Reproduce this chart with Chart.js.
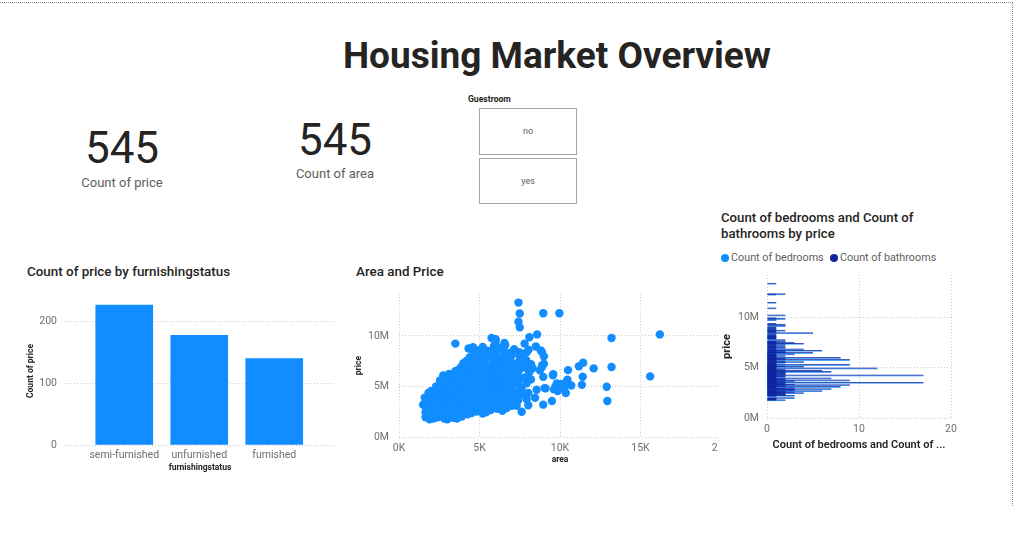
<!DOCTYPE html>
<html><head><meta charset="utf-8">
<script src="https://cdn.jsdelivr.net/npm/chart.js@4.4.1/dist/chart.umd.min.js"></script>
<style>
html,body{margin:0;padding:0;background:#fff;}
body{width:1024px;height:548px;position:relative;overflow:hidden;font-family:Roboto,'DejaVu Sans',sans-serif;color:#252423;}
.abs{position:absolute;}
#frame{left:0;top:2px;width:1012px;height:503px;border-top:1px dotted #8a8a8a;border-right:1px dotted #8a8a8a;}
#title{left:300px;width:514px;top:37px;text-align:center;font-size:37px;line-height:37px;font-weight:700;color:#252423;}
.kpi{width:200px;text-align:center;}
.kpiv{font-size:44px;line-height:44px;color:#252423;}
.kpil{font-size:13px;line-height:13px;color:#605E5C;}
.ctitle{font-size:13.4px;line-height:16px;font-weight:500;color:#252423;white-space:nowrap;}
.slbox{left:479px;width:96px;border:1px solid #a6a6a6;text-align:center;font-size:9px;color:#605E5C;}
.dot{width:8px;height:8px;border-radius:50%;}
.leg{font-size:10.8px;line-height:12px;color:#605E5C;white-space:nowrap;}
</style></head>
<body>
<div id="frame" class="abs"></div>
<div id="title" class="abs">Housing Market Overview</div>

<div class="abs kpi kpiv" id="kpi1" style="left:22px;top:126px;"></div>
<div class="abs kpi kpil" style="left:22px;top:176px;">Count of price</div>
<div class="abs kpi kpiv" id="kpi2" style="left:235px;top:118px;"></div>
<div class="abs kpi kpil" style="left:235px;top:167px;">Count of area</div>

<div class="abs" style="left:468px;top:94px;font-size:8.6px;line-height:10px;font-weight:700;color:#252423;">Guestroom</div>
<div class="abs slbox" style="top:108px;height:45px;line-height:45px;">no</div>
<div class="abs slbox" style="top:158px;height:44px;line-height:44px;">yes</div>

<div class="abs ctitle" style="left:27px;top:264px;">Count of price by furnishingstatus</div>
<div class="abs ctitle" style="left:356px;top:264px;">Area and Price</div>
<div class="abs ctitle" style="left:721px;top:210px;font-size:13.2px;">Count of bedrooms and Count of<br>bathrooms by price</div>

<div class="abs dot" style="left:721px;top:254px;background:#118DFF;"></div>
<div class="abs leg" style="left:731px;top:252px;">Count of bedrooms</div>
<div class="abs dot" style="left:830px;top:254px;background:#12239E;"></div>
<div class="abs leg" style="left:840px;top:252px;">Count of bathrooms</div>

<div class="abs" style="left:20px;top:297px;width:315px;height:180px;"><canvas id="barChart"></canvas></div>
<div class="abs" style="left:340px;top:290px;width:378px;height:178px;overflow:hidden;">
  <div style="position:relative;width:401px;height:178px;"><canvas id="scatterChart"></canvas></div>
</div>
<div class="abs" style="left:715px;top:275px;width:250px;height:180px;"><canvas id="hbarChart"></canvas></div>

<script>
// ---- Data ----
const furnishLabels = ['semi-furnished', 'unfurnished', 'furnished'];
const furnishCounts = [227, 178, 140];
const countTicks = [0, 100, 200];

const scatterArea = [
  7420,8960,9960,7500,7420,7500,8580,16200,8100,5750,
  13200,6000,6550,3500,7800,6000,6600,8500,4600,6420,
  4320,7155,8050,4560,8800,6540,6000,8875,7950,5500,
  7475,7000,4880,5960,6840,7000,7482,9000,6000,6000,
  6550,6360,6480,6000,6000,6000,6000,6600,4300,7440,
  7440,6325,6000,5150,6000,6000,11440,9000,7680,6000,
  6000,8880,6240,6360,11175,8880,13200,7700,6000,12090,
  4000,6000,5020,8000,6600,4180,6000,6600,10500,
  15600,12900,12940,11410,11360,10460,10700,10300,10240,10360,9800,9620,9860,9100,9560,9500,8960,8750,8960,9050,8450,8550,9580,10100,9720,
  4400,4700,5000,5200,5800,5900,6200,6700,6900,7650,7900,8200,8300,7850,4000,5250,6450,7100,
  1500,1650,1650,1700,1650,1836,1600,
  1905,2000,1950,1950,2000,2015,1950,2000,
  2145,2175,2280,2160,2275,2200,2325,2200,2300,
  2400,2430,2520,2500,2550,2610,2500,2550,2600,2550,
  2800,2700,2880,2747,2880,2800,2850,2700,2870,2800,2910,2747,
  3000,3180,3040,3150,3000,3180,3090,3150,3000,3120,3180,3100,
  3360,3450,3300,3480,3400,3350,3480,3420,3450,3360,3480,3500,3640,
  3600,3750,3640,3800,3630,3750,3640,3800,3700,3750,3640,3800,3850,
  3900,4000,3960,4050,3970,4100,4000,4040,4100,3990,4050,4000,
  4260,4350,4200,4360,4280,4400,4240,4350,4260,4400,4300,4350,4200,
  4500,4600,4520,4640,4500,4600,4560,4680,4500,4600,4540,4640,4600,
  4800,4900,4820,5000,4900,4800,5000,4840,4950,4800,4900,5000,4950,
  5200,5100,5300,5150,5250,5100,5300,5200,5300,5100,5250,5150,5300,5200,
  5400,5500,5450,5600,5400,5500,5600,5450,5500,5600,5400,5500,5450,5600,
  5700,5800,5750,5850,5700,5800,5880,5720,5800,5900,5760,5850,
  6000,6000,6000,6000,6000,6000,6000,6000,6000,6000,6000,6000,
  6100,6240,6150,6300,6200,6120,6300,6200,6250,6100,6300,
  6420,6500,6400,6600,6480,6550,6420,6600,6500,6400,6600,6500,
  6700,6800,6720,6900,6750,6840,6700,6900,6800,6720,
  7000,7100,7000,7200,7050,7150,7000,7200,7100,7000,
  7310,7400,7300,7500,7620,7400,7500,7350,7450,7620,
  7720,7930,7930,7800,8100,8200,8030,8030
];
const scatterPriceM = [
  13.3,12.25,12.25,12.215,11.41,10.85,10.15,10.15,9.87,9.8,
  9.8,9.681,9.31,9.24,9.24,9.1,9.1,8.96,8.89,8.855,
  8.75,8.68,8.645,8.645,8.575,8.54,8.463,8.4,8.4,8.4,
  8.4,8.4,8.295,8.19,8.12,8.081,8.043,7.98,7.963,7.91,
  7.875,7.84,7.7,7.7,7.56,7.56,7.525,7.49,7.455,7.42,
  7.42,7.42,7.35,7.35,7.35,7.35,7.343,7.245,7.21,7.21,
  7.14,7.07,7.07,7.035,7.0,6.93,6.93,6.895,6.86,6.79,
  6.79,6.79,6.79,6.72,6.685,6.65,6.65,6.65,6.615,
  6.0,4.97,3.56,5.96,5.16,5.67,5.1,5.29,4.87,4.36,5.29,4.71,4.55,4.81,6.1,3.56,3.2,6.6,5.95,4.84,3.88,4.68,6.22,5.25,5.0,
  7.9,8.1,8.6,8.9,8.6,9.0,8.7,8.3,7.9,8.2,7.6,7.2,6.8,6.9,7.3,7.3,7.6,6.9,
  3.2,1.96,2.45,2.8,3.57,4.38,3.9,
  1.75,2.1,2.52,3.0,3.43,3.85,4.2,4.55,
  1.82,2.24,2.66,3.08,3.5,3.92,4.34,4.62,5.0,
  1.96,2.38,2.8,3.22,3.64,4.06,4.48,4.9,5.25,5.6,
  1.82,2.17,2.52,2.94,3.36,3.78,4.2,4.62,5.04,5.46,5.88,6.1,
  1.75,2.03,2.45,2.87,3.29,3.71,4.13,4.55,4.97,5.39,5.81,6.23,
  1.89,2.31,2.73,3.15,3.57,3.99,4.41,4.83,5.25,5.67,6.09,6.51,6.6,
  1.82,2.17,2.59,3.01,3.43,3.85,4.27,4.69,5.11,5.53,5.95,6.37,6.9,
  2.03,2.45,2.87,3.29,3.71,4.13,4.55,4.97,5.39,5.81,6.23,6.65,
  2.24,2.66,3.08,3.5,3.92,4.34,4.76,5.18,5.6,6.02,6.44,7.0,7.56,
  2.38,2.8,3.22,3.64,4.06,4.48,4.9,5.32,5.74,6.16,6.58,7.1,7.7,
  2.52,2.94,3.36,3.78,4.2,4.62,5.04,5.46,5.88,6.3,6.72,7.2,7.7,
  2.31,2.73,3.15,3.57,3.99,4.41,4.83,5.25,5.67,6.09,6.51,6.93,7.63,8.05,
  2.45,2.87,3.29,3.71,4.13,4.55,4.97,5.39,5.81,6.23,6.65,7.07,8.53,7.9,
  2.66,3.08,3.5,3.92,4.34,4.76,5.18,5.6,6.02,6.44,6.86,7.28,
  2.94,3.36,3.78,4.2,4.62,5.04,5.46,5.88,6.3,8.19,8.82,9.45,
  2.8,3.22,3.64,4.06,4.48,4.9,5.32,5.74,6.16,6.58,7.7,
  2.59,3.01,3.43,3.85,4.27,4.69,5.11,5.53,5.95,6.37,6.8,8.0,
  2.87,3.29,3.71,4.13,4.55,4.97,5.39,5.81,6.23,6.65,
  3.08,3.5,3.92,4.34,4.76,5.18,5.6,6.02,6.44,7.35,
  3.08,3.64,4.06,4.48,4.84,5.25,5.74,6.2,6.6,2.5,
  4.2,3.72,5.32,5.9,6.44,5.7,3.14,4.36
];
const areaTicks = [0, 5000, 10000, 15000, 20000];
const priceTicksM = [0, 5, 10];

const priceLevelsM = [
  13.3,12.25,12.215,11.41,10.85,10.15,9.87,9.8,9.681,9.31,
  9.24,9.1,8.96,8.89,8.855,8.75,8.68,8.645,8.575,8.54,
  8.463,8.4,8.295,8.19,8.12,8.081,8.043,7.98,7.963,7.91,
  7.875,7.84,7.7,7.56,7.525,7.49,7.455,7.42,7.35,7.343,
  7.245,7.21,7.14,7.07,7.035,7.0,6.93,6.895,6.86,6.79,
  6.72,6.685,6.65,6.629,6.615,6.58,6.51,6.475,6.44,6.419,
  6.405,6.3,6.293,6.265,6.23,6.195,6.16,6.125,6.108,6.09,
  6.083,6.02,5.95,5.943,5.88,5.873,5.866,5.81,5.803,5.775,
  5.74,5.684,5.652,5.6,5.565,5.53,5.495,5.46,5.425,5.39,
  5.383,5.32,5.285,5.25,5.215,5.18,5.145,5.11,5.075,5.04,
  5.033,5.005,4.98,4.956,4.935,4.907,4.9,4.893,4.865,4.83,
  4.795,4.767,4.76,4.725,4.69,4.655,4.62,4.585,4.55,4.515,
  4.48,4.473,4.445,4.41,4.403,4.382,4.375,4.34,4.319,4.305,
  4.27,4.235,4.2,4.193,4.165,4.13,4.123,4.098,4.095,4.06,
  4.025,4.007,3.99,3.92,3.885,3.85,3.836,3.815,3.78,3.71,
  3.703,3.675,3.64,3.633,3.605,3.57,3.5,3.493,3.465,3.43,
  3.423,3.395,3.36,3.353,3.332,3.325,3.29,3.255,3.22,3.15,
  3.143,3.136,3.115,3.08,3.045,3.01,3.003,2.975,2.94,2.87,
  2.852,2.835,2.8,2.73,2.695,2.66,2.653,2.604,2.59,2.52,
  2.49,2.485,2.45,2.408,2.38,2.345,2.31,2.275,2.24,2.233,
  2.2,2.135,1.96,1.925,1.89,1.855,1.82,1.767,1.75
];
const bedroomCounts = [
  1,2,1,1,1,2,1,2,1,1,
  2,2,1,1,1,1,1,2,1,1,
  1,5,1,1,1,1,1,1,1,1,
  1,1,2,2,1,1,1,3,4,1,
  1,2,1,2,1,1,2,1,1,4,
  1,1,6,1,2,1,2,2,5,1,
  1,3,1,1,1,1,1,2,1,1,
  1,1,8,1,2,1,1,2,1,1,
  9,1,1,2,1,4,1,2,1,1,
  1,1,1,9,1,1,1,2,4,1,
  1,1,1,1,1,1,12,1,1,1,
  1,1,2,1,6,1,2,1,7,1,
  2,1,1,2,1,1,1,2,1,1,
  2,1,17,1,1,2,1,1,1,2,
  1,1,1,7,1,2,1,1,2,9,
  1,1,3,1,1,2,17,1,1,2,
  1,1,2,1,1,1,3,9,2,2,
  1,1,1,8,1,1,1,1,3,2,
  1,7,3,3,1,6,1,1,2,3,
  2,1,4,1,2,1,2,2,1,1,
  3,1,3,1,1,1,1,1,2
];
const bathroomCounts = bedroomCounts.slice();
const countAxisTicks = [0, 10, 20];

// ---- KPI text ----
const total = furnishCounts.reduce((a, b) => a + b, 0);
document.getElementById('kpi1').textContent = total;
document.getElementById('kpi2').textContent = total;

// ---- Common styling ----
Chart.defaults.font.family = "Roboto, 'DejaVu Sans', sans-serif";
Chart.defaults.animation = false;
Chart.defaults.plugins.legend.display = false;
Chart.defaults.plugins.tooltip.enabled = false;
const TICK = '#6e6e6e';
const GRID = '#c9c9c9';
const DASH = [1, 2];
const fixY = w => s => { s.width = w; s.paddingTop = 0; s.paddingBottom = 0; };
const fixX = h => s => { s.height = h; s.paddingLeft = 0; s.paddingRight = 0; };
const setTicks = vals => a => { a.ticks = vals.map(v => ({ value: v })); };

// ---- Bar chart ----
new Chart(document.getElementById('barChart'), {
  type: 'bar',
  data: { datasets: [{ data: furnishCounts.map((v, i) => ({ x: i, y: v })), backgroundColor: '#118DFF', barThickness: 57 }] },
  options: {
    responsive: true, maintainAspectRatio: false, devicePixelRatio: 1,
    layout: { padding: 0 },
    scales: {
      x: {
        type: 'linear', min: -0.79, max: 2.81, offset: false,
        afterBuildTicks: setTicks(furnishLabels.map((_, i) => i)),
        ticks: { callback: v => furnishLabels[v], color: TICK, font: { size: 10.5 }, padding: 4, autoSkip: false, maxRotation: 0 },
        grid: { display: false, offset: false, drawTicks: false },
        border: { display: false },
        title: { display: true, text: 'furnishingstatus', color: '#252423', font: { size: 8.5, weight: 'bold' }, padding: { top: 0, bottom: 4 } },
        afterFit: fixX(32)
      },
      y: {
        min: 0, max: 240,
        afterBuildTicks: setTicks(countTicks),
        ticks: { color: TICK, font: { size: 10.5 }, padding: 8 },
        grid: { color: GRID, drawTicks: false, offset: false },
        border: { display: false, dash: DASH },
        title: { display: true, text: 'Count of price', color: '#252423', font: { size: 8.5, weight: 'bold' }, padding: { top: 6, bottom: 0 } },
        afterFit: fixY(45)
      }
    }
  }
});

// ---- Scatter chart ----
new Chart(document.getElementById('scatterChart'), {
  type: 'scatter',
  data: { datasets: [{ data: scatterArea.map((a, i) => ({ x: a, y: scatterPriceM[i] })), backgroundColor: '#118DFF', borderWidth: 0, pointRadius: 4.2, pointHoverRadius: 4.2 }] },
  options: {
    responsive: true, maintainAspectRatio: false, devicePixelRatio: 1,
    layout: { padding: { left: 10, right: 20, top: 0, bottom: 0 } },
    scales: {
      x: {
        type: 'linear', min: 0, max: 20000,
        afterBuildTicks: setTicks(areaTicks),
        ticks: { callback: v => (v / 1000) + 'K', color: TICK, font: { size: 10.5 }, padding: 5, maxRotation: 0 },
        grid: { color: GRID, drawTicks: false },
        border: { display: false, dash: DASH },
        title: { display: true, text: 'area', color: '#252423', font: { size: 8.5, weight: 'bold' }, padding: { top: 0, bottom: 3 } },
        afterFit: fixX(31)
      },
      y: {
        type: 'linear', min: 0, max: 14.13,
        afterBuildTicks: setTicks(priceTicksM),
        ticks: { callback: v => v + 'M', color: TICK, font: { size: 10.5 }, padding: 10 },
        grid: { color: GRID, drawTicks: false },
        border: { display: false, dash: DASH },
        title: { display: true, text: 'price', color: '#252423', font: { size: 8.5, weight: 'bold' }, padding: { top: 4, bottom: 0 } },
        afterFit: fixY(49)
      }
    }
  }
});

// ---- Horizontal clustered bar chart ----
new Chart(document.getElementById('hbarChart'), {
  type: 'bar',
  data: {
    datasets: [
      { label: 'Count of bedrooms', data: priceLevelsM.map((p, i) => ({ x: bedroomCounts[i], y: p })), backgroundColor: '#118DFF', barThickness: 0.75, inflateAmount: 0, order: 1 },
      { label: 'Count of bathrooms', data: priceLevelsM.map((p, i) => ({ x: bathroomCounts[i], y: p })), backgroundColor: '#12239E', barThickness: 0.75, inflateAmount: 0, order: 0 }
    ]
  },
  options: {
    indexAxis: 'y',
    responsive: true, maintainAspectRatio: false, devicePixelRatio: 1,
    layout: { padding: { left: 2, right: 14, top: 0, bottom: 0 } },
    scales: {
      x: {
        type: 'linear', min: 0, max: 20,
        afterBuildTicks: setTicks(countAxisTicks),
        ticks: { color: TICK, font: { size: 10.5 }, padding: 5 },
        grid: { color: GRID, drawTicks: false, offset: false },
        border: { display: false, dash: DASH },
        title: { display: true, text: 'Count of bedrooms and Count of ...', color: '#252423', font: { size: 11, weight: '600' }, padding: { top: 0, bottom: 3 } },
        afterFit: fixX(37)
      },
      y: {
        type: 'linear', min: 0, max: 14.16, offset: false,
        afterBuildTicks: setTicks(priceTicksM),
        ticks: { callback: v => v + 'M', color: TICK, font: { size: 10.5 }, padding: 8 },
        grid: { color: GRID, drawTicks: false, offset: false },
        border: { display: false, dash: DASH },
        title: { display: true, text: 'price', color: '#252423', font: { size: 11, weight: 'bold' }, padding: { top: 4, bottom: 0 } },
        afterFit: fixY(50)
      }
    }
  }
});
</script>
</body></html>
